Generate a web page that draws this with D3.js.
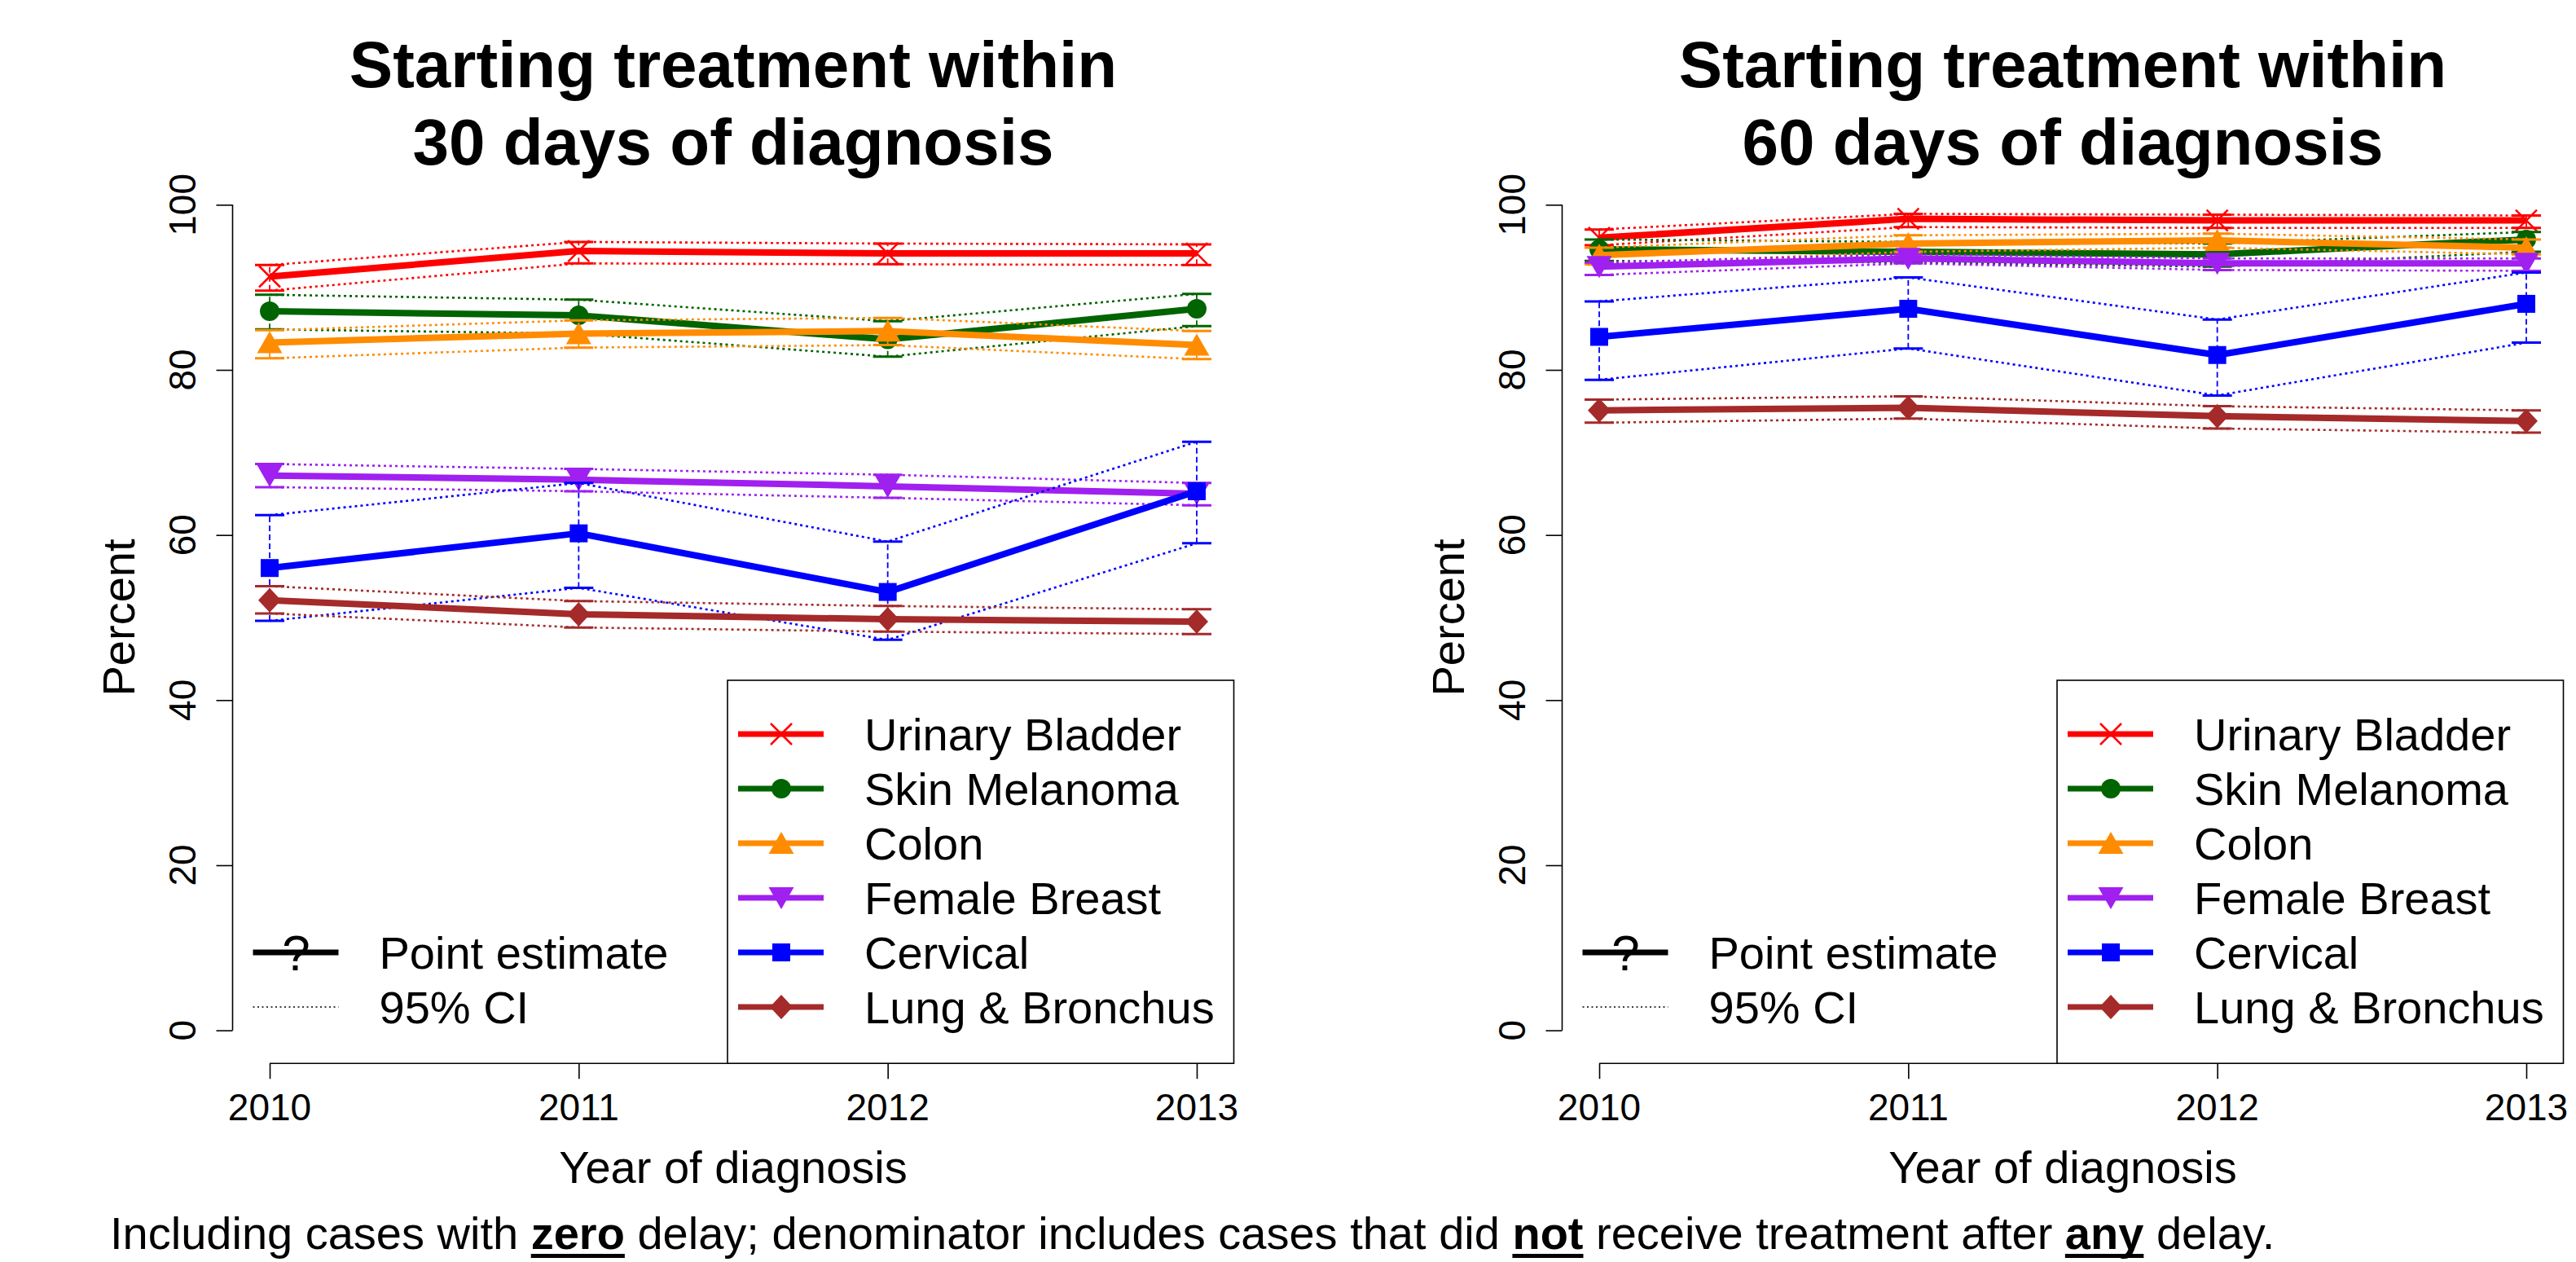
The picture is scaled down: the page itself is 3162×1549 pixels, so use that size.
<!DOCTYPE html>
<html><head><meta charset="utf-8">
<script src="https://cdn.jsdelivr.net/npm/d3@7"></script>
<style>
body{margin:0;background:#fff}
text{font-family:"Liberation Sans",Arial,Helvetica,sans-serif;fill:#000}
</style>
</head><body>
<svg id="chart" width="3162" height="1549"></svg>
<script>
// ---------------- data ----------------
const years = [2010, 2011, 2012, 2013];
const cancers = ["Urinary Bladder", "Skin Melanoma", "Colon", "Female Breast", "Cervical", "Lung & Bronchus"];
const yTicks = [0, 20, 40, 60, 80, 100];
const titles = [["Starting treatment within", "30 days of diagnosis"], ["Starting treatment within", "60 days of diagnosis"]];

// 30 days: point estimates, lower and upper 95% CI (rows follow `cancers`)
const est30 = [[91.3, 94.4, 94.1, 94.1], [87.1, 86.6, 83.7, 87.4], [83.3, 84.4, 84.7, 83.0],
               [67.2, 66.7, 65.9, 65.0], [56.0, 60.2, 53.1, 65.3], [52.1, 50.4, 49.8, 49.5]];
const lo30  = [[89.6, 92.9, 92.8, 92.7], [84.9, 84.4, 81.6, 85.3], [81.4, 82.7, 83.0, 81.3],
               [65.8, 65.3, 64.5, 63.6], [49.6, 53.6, 47.3, 59.0], [50.5, 48.8, 48.3, 48.0]];
const hi30  = [[92.7, 95.5, 95.3, 95.2], [89.1, 88.5, 85.9, 89.2], [84.8, 86.0, 86.3, 84.7],
               [68.6, 68.0, 67.3, 66.3], [62.4, 66.3, 59.2, 71.3], [53.8, 52.0, 51.4, 51.0]];
// 60 days
const est60 = [[96.0, 98.3, 98.1, 98.1], [94.6, 94.3, 94.0, 95.8], [93.9, 95.3, 95.7, 94.8],
               [92.5, 93.5, 92.9, 92.9], [84.0, 87.4, 81.8, 88.0], [75.1, 75.4, 74.4, 73.8]];
const lo60  = [[95.1, 97.3, 97.2, 97.2], [93.2, 93.0, 92.5, 94.3], [92.8, 94.3, 94.8, 94.0],
               [91.5, 92.9, 92.1, 92.0], [78.8, 82.6, 76.9, 83.3], [73.6, 74.1, 72.9, 72.4]];
const hi60  = [[97.0, 98.9, 98.8, 98.7], [95.8, 95.5, 95.3, 96.7], [94.8, 96.3, 96.5, 95.8],
               [93.0, 94.0, 93.5, 93.5], [88.3, 91.2, 86.1, 91.8], [76.4, 76.8, 75.6, 75.1]];

const footnote = [["Including cases with ", false], ["zero", true], [" delay; denominator includes cases that did ", false],
                  ["not", true], [" receive treatment after ", false], ["any", true], [" delay.", false]];

// ---------------- styles ----------------
const colors = ["#FF0000", "#006400", "#FF8C00", "#A020F0", "#0000FF", "#A52A2A"];
const shapes = ["cross", "circle", "triUp", "triDown", "square", "diamond"];

function symbolPath(kind) {
  switch (kind) {
    case "cross": return "M-13,-13L13,13M-13,13L13,-13";
    case "circle": return "M12,0A12,12 0 1,1 -12,0A12,12 0 1,1 12,0Z";
    case "triUp": return "M0,-14L15.5,13L-15.5,13Z";
    case "triDown": return "M0,14L15.5,-13L-15.5,-13Z";
    case "square": return "M-11,-11H11V11H-11Z";
    case "diamond": return "M0,-15L14,0L0,15L-14,0Z";
  }
}
function drawSymbol(g, kind, x, y, color) {
  const p = g.append("path").attr("d", symbolPath(kind)).attr("transform", `translate(${x},${y})`);
  if (kind === "cross") p.attr("fill", "none").attr("stroke", color).attr("stroke-width", 2.5);
  else p.attr("fill", color).attr("stroke", "none");
}

const svg = d3.select("#chart");
svg.append("rect").attr("width", 3162).attr("height", 1549).attr("fill", "#fff");

const panels = [
  {left: 285.5, est: est30, lo: lo30, hi: hi30, title: titles[0]},
  {left: 1917.5, est: est60, lo: lo60, hi: hi60, title: titles[1]}
];
const plotW = 1229, plotTop = 210.8, plotBottom = 1305.2;
const fs = 56, tickFs = 46;

panels.forEach(pn => {
  const g = svg.append("g");
  const x = d3.scaleLinear().domain([2009.88, 2013.12]).range([pn.left, pn.left + plotW]);
  const y = d3.scaleLinear().domain([-4, 104]).range([plotBottom, plotTop]);
  const cx = pn.left + plotW / 2;

  // title
  pn.title.forEach((t, i) => {
    g.append("text").attr("x", cx).attr("y", 107 + i * 95).attr("text-anchor", "middle")
      .attr("font-size", 80).attr("font-weight", "bold").text(t);
  });

  // y axis
  const ya = g.append("g").attr("transform", `translate(${pn.left},0)`)
    .call(d3.axisLeft(y).tickValues(yTicks).tickSize(20).tickPadding(0).tickFormat(d3.format("d")));
  ya.select(".domain").attr("d", `M0,${y(0)}V${y(100)}`).attr("stroke-width", 1.6);
  ya.selectAll(".tick line").attr("stroke-width", 1.6);
  ya.selectAll(".tick text").remove();
  yTicks.forEach(v => {
    g.append("text").attr("transform", `translate(${pn.left - 46},${y(v)}) rotate(-90)`)
      .attr("text-anchor", "middle").attr("font-size", tickFs).text(v);
  });
  // x axis
  const xa = g.append("g").attr("transform", `translate(0,${plotBottom})`)
    .call(d3.axisBottom(x).tickValues(years).tickSize(19).tickPadding(0).tickFormat(d3.format("d")));
  xa.select(".domain").attr("d", `M${x(2010)},0H${x(2013)}`).attr("stroke-width", 1.6);
  xa.selectAll(".tick line").attr("stroke-width", 1.6);
  xa.selectAll(".tick text").remove();
  years.forEach(yr => {
    g.append("text").attr("x", x(yr)).attr("y", 1375).attr("text-anchor", "middle")
      .attr("font-size", tickFs).text(yr);
  });

  // axis labels
  g.append("text").attr("x", cx).attr("y", 1452).attr("text-anchor", "middle").attr("font-size", fs).text("Year of diagnosis");
  g.append("text").attr("transform", `translate(${pn.left - 121},${(plotTop + plotBottom) / 2}) rotate(-90)`)
    .attr("text-anchor", "middle").attr("font-size", fs).text("Percent");

  // series
  cancers.forEach((c, i) => {
    const col = colors[i];
    const line = d3.line().x((d, j) => x(years[j])).y(d => y(d));
    [pn.lo[i], pn.hi[i]].forEach(arr => {
      g.append("path").attr("d", line(arr)).attr("fill", "none").attr("stroke", col)
        .attr("stroke-width", 2.6).attr("stroke-dasharray", "3,4");
    });
    years.forEach((yr, j) => {
      const xx = x(yr);
      g.append("line").attr("x1", xx).attr("x2", xx).attr("y1", y(pn.lo[i][j])).attr("y2", y(pn.hi[i][j]))
        .attr("stroke", col).attr("stroke-width", 1.8).attr("stroke-dasharray", "7,4");
      [pn.lo[i][j], pn.hi[i][j]].forEach(v => {
        g.append("line").attr("x1", xx - 18).attr("x2", xx + 18).attr("y1", y(v)).attr("y2", y(v))
          .attr("stroke", col).attr("stroke-width", 3);
      });
    });
    g.append("path").attr("d", line(pn.est[i])).attr("fill", "none").attr("stroke", col)
      .attr("stroke-width", 8).attr("stroke-linejoin", "round");
    years.forEach((yr, j) => drawSymbol(g, shapes[i], x(yr), y(pn.est[i][j]), col));
  });

  // legend: point estimate / CI
  const lx = pn.left + 25, lrow0 = 901, lstep = 67;
  const r4 = lrow0 + 4 * lstep, r5 = lrow0 + 5 * lstep;
  g.append("line").attr("x1", lx).attr("x2", lx + 105).attr("y1", r4).attr("y2", r4).attr("stroke", "#000").attr("stroke-width", 7);
  g.append("text").attr("x", lx + 53).attr("y", r4 + 22).attr("text-anchor", "middle").attr("font-size", 62).text("?");
  g.append("text").attr("x", pn.left + 180).attr("y", r4 + 20).attr("font-size", fs).text("Point estimate");
  g.append("line").attr("x1", lx).attr("x2", lx + 105).attr("y1", r5).attr("y2", r5).attr("stroke", "#000")
    .attr("stroke-width", 1.6).attr("stroke-dasharray", "2,3.5");
  g.append("text").attr("x", pn.left + 180).attr("y", r5 + 20).attr("font-size", fs).text("95% CI");

  // legend: cancers
  const bx = pn.left + plotW - 621.5;
  g.append("rect").attr("x", bx).attr("y", 835).attr("width", 621.5).attr("height", plotBottom - 835)
    .attr("fill", "#fff").attr("stroke", "#000").attr("stroke-width", 1.6);
  cancers.forEach((c, i) => {
    const ry = lrow0 + i * lstep;
    g.append("line").attr("x1", bx + 13).attr("x2", bx + 118).attr("y1", ry).attr("y2", ry)
      .attr("stroke", colors[i]).attr("stroke-width", 7);
    drawSymbol(g, shapes[i], bx + 66, ry, colors[i]);
    g.append("text").attr("x", bx + 168).attr("y", ry + 20).attr("font-size", fs).text(c);
  });
});

// footnote
const fn = svg.append("text").attr("x", 135).attr("y", 1533).attr("font-size", fs).style("white-space", "pre");
const boldSpans = [];
footnote.forEach(([t, b]) => {
  const s = fn.append("tspan").text(t);
  if (b) { s.attr("font-weight", "bold"); boldSpans.push(s.node()); }
});
boldSpans.forEach(node => {
  const n = node.getNumberOfChars();
  const x0 = node.getStartPositionOfChar(0).x;
  const x1 = node.getEndPositionOfChar(n - 1).x;
  svg.append("rect").attr("x", x0).attr("y", 1539).attr("width", x1 - x0).attr("height", 5).attr("fill", "#000");
});
</script>
</body></html>
